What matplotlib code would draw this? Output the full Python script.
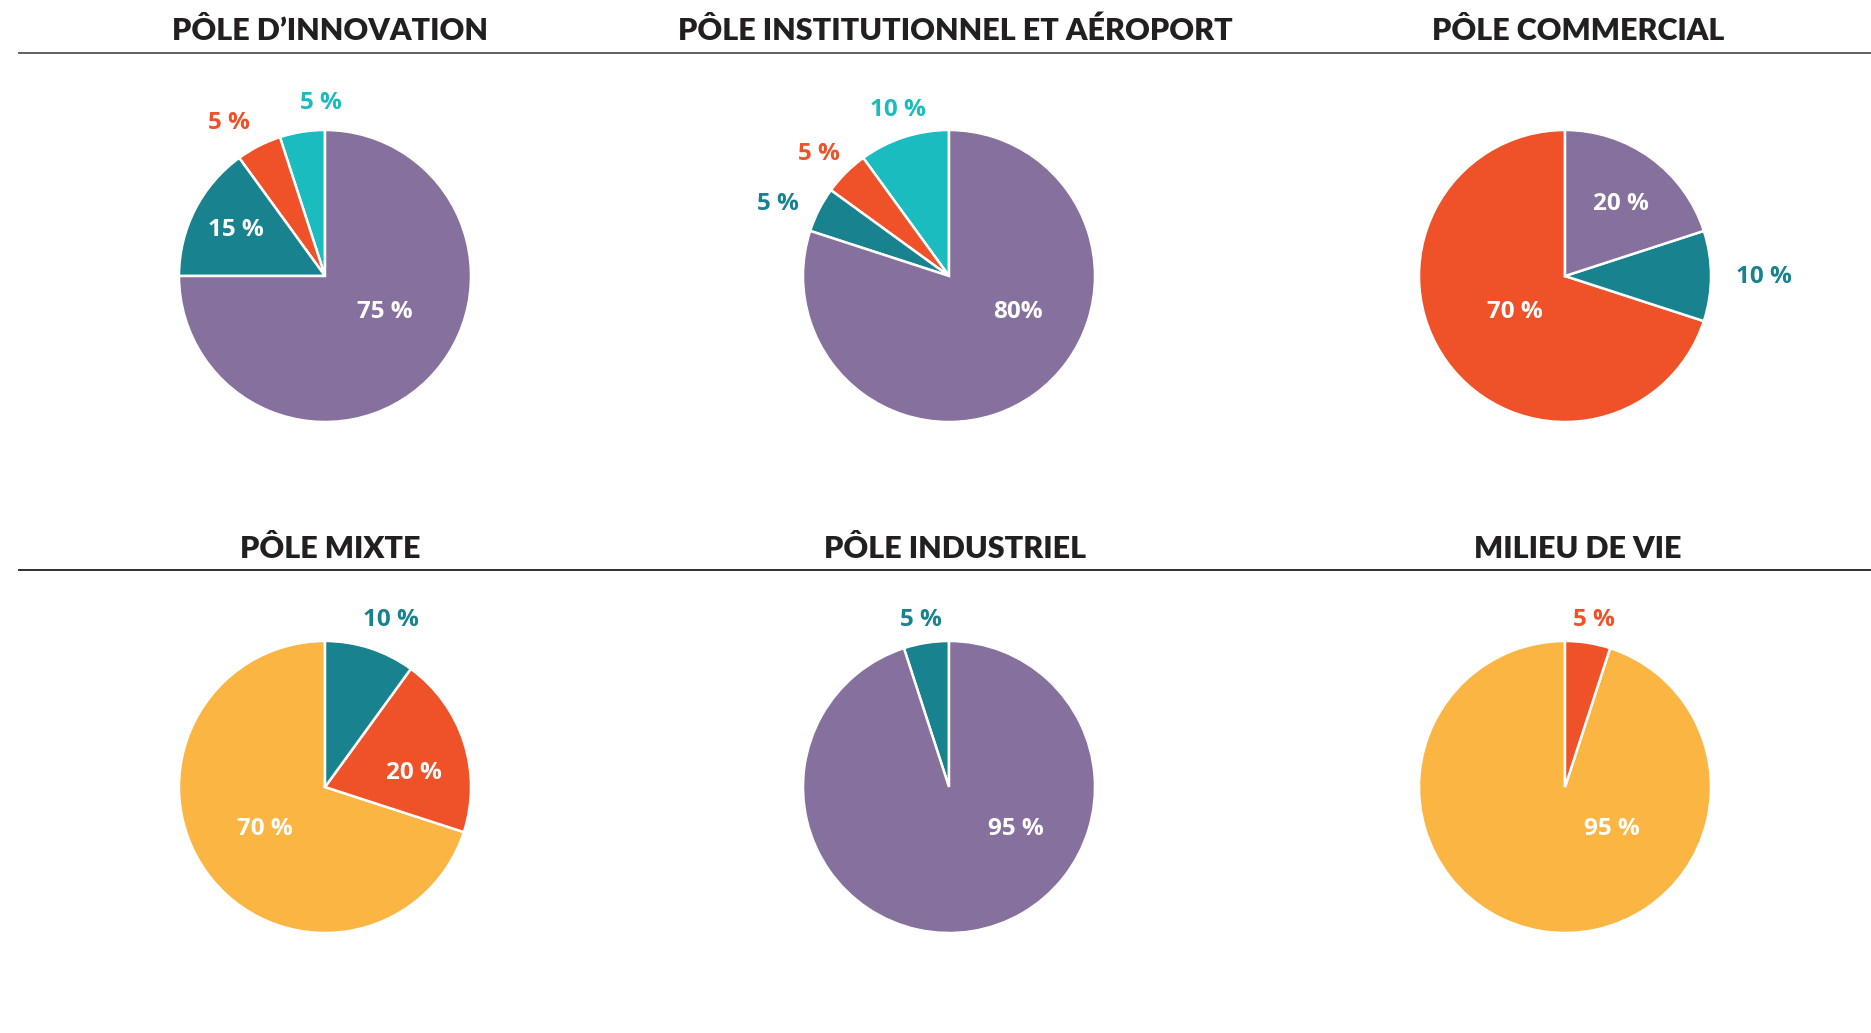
import matplotlib
matplotlib.use("Agg")
from matplotlib import pyplot as plt

# colours
PURPLE = "#86709D"
TEAL = "#18838F"
CYAN = "#1ABCBF"
ORANGE = "#EF5228"
YELLOW = "#FBB542"
DARK = "#231F20"

# data (counter-clockwise from 12 o'clock)
titles = ["PÔLE D\u2019INNOVATION", "PÔLE INSTITUTIONNEL ET AÉROPORT", "PÔLE COMMERCIAL",
          "PÔLE MIXTE", "PÔLE INDUSTRIEL", "MILIEU DE VIE"]
innovation = [5, 5, 15, 75]
institutionnel = [10, 5, 5, 80]
commercial = [70, 10, 20]
mixte = [70, 20, 10]
industriel = [5, 95]
milieu = [95, 5]
values = [innovation, institutionnel, commercial, mixte, industriel, milieu]
labels = [["5 %", "5 %", "15 %", "75 %"],
          ["10 %", "5 %", "5 %", "80%"],
          ["70 %", "10 %", "20 %"],
          ["70 %", "20 %", "10 %"],
          ["5 %", "95 %"],
          ["95 %", "5 %"]]
colors = [[CYAN, ORANGE, TEAL, PURPLE],
          [CYAN, ORANGE, TEAL, PURPLE],
          [ORANGE, TEAL, PURPLE],
          [YELLOW, ORANGE, TEAL],
          [TEAL, PURPLE],
          [YELLOW, ORANGE]]

# layout (pixels, full size) and label placement in pie units
W, H = 1871, 1033
centers_x = [325, 949, 1565]
centers_y = [276, 787]
title_x = [330, 955, 1578]
title_y = [40, 558]
rule_y = [52.5, 570]
rule_col = ["#555555", DARK]
R = 146
label_xy = [[(-0.03, 1.21), (-0.66, 1.07), (-0.61, 0.34), (0.41, -0.22)],
            [(-0.35, 1.16), (-0.89, 0.86), (-1.17, 0.52), (0.47, -0.22)],
            [(-0.34, -0.22), (1.36, 0.02), (0.38, 0.52)],
            [(-0.41, -0.26), (0.61, 0.12), (0.45, 1.17)],
            [(-0.19, 1.17), (0.46, -0.26)],
            [(0.32, -0.26), (0.20, 1.17)]]
inside = [[False, False, True, True],
          [False, False, False, True],
          [True, False, True],
          [True, True, False],
          [False, True],
          [True, False]]

fig = plt.figure(figsize=(W / 100, H / 100), dpi=100)
fig.patch.set_facecolor("white")

k = 1.7
for i in range(6):
    row, col = divmod(i, 3)
    cx, cy = centers_x[col], centers_y[row]
    half = R * k
    ax = fig.add_axes([(cx - half) / W, 1 - (cy + half) / H, 2 * half / W, 2 * half / H])
    ax.pie(values[i], colors=colors[i], startangle=90, counterclock=True,
           wedgeprops=dict(edgecolor="white", linewidth=1.8))
    ax.set_xlim(-k, k)
    ax.set_ylim(-k, k)
    ax.set_aspect("equal")
    ax.axis("off")
    for j, txt in enumerate(labels[i]):
        x, y = label_xy[i][j]
        c = "white" if inside[i][j] else colors[i][j]
        ax.text(x, y - 0.025, txt, color=c, fontsize=17.5, fontweight="bold",
                family="Open Sans", ha="center", va="center")

for i in range(6):
    row, col = divmod(i, 3)
    fig.text(title_x[col] / W, 1 - title_y[row] / H, titles[i], color=DARK,
             fontsize=22, fontweight="heavy", family="Lato", ha="center", va="baseline")

for row in range(2):
    fig.add_artist(plt.Line2D([19 / W, 1.0], [1 - rule_y[row] / H] * 2,
                              color=rule_col[row], linewidth=1.3))

fig.savefig("out.png", dpi=100, facecolor="white")
